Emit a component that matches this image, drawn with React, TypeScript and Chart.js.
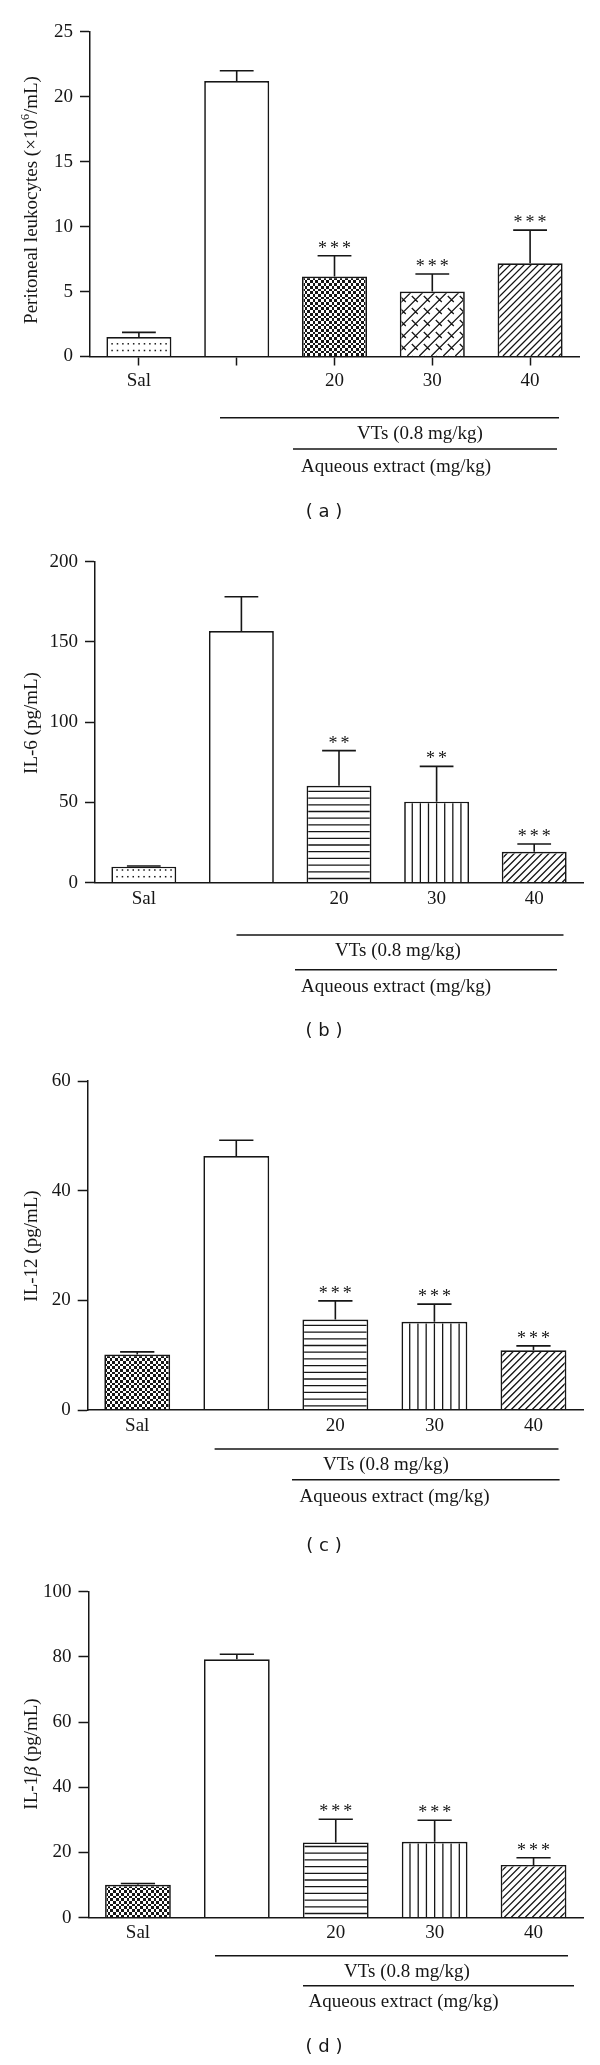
import React, { useEffect, useRef } from "react";
import { Chart, registerables } from "chart.js";

Chart.register(...registerables);

// ---------------- data ----------------
const categories = ["Sal", "", "20", "30", "40"];

const leukocyteMeans = [1.5, 21.2, 6.15, 5.0, 7.17];
const leukocyteSem = [0.36, 0.8, 1.6, 1.35, 2.56];
const leukocyteSig = ["", "", "***", "***", "***"];

const il6Means = [10.0, 156.8, 60.4, 50.5, 19.3];
const il6Sem = [0.4, 21.4, 21.9, 22.0, 4.8];
const il6Sig = ["", "", "**", "**", "***"];

const il12Means = [10.1, 46.3, 16.5, 16.1, 10.9];
const il12Sem = [0.5, 2.9, 3.4, 3.2, 0.8];
const il12Sig = ["", "", "***", "***", "***"];

const il1bMeans = [10.1, 79.3, 23.1, 23.3, 16.2];
const il1bSem = [0.4, 1.5, 7.1, 6.6, 2.2];
const il1bSig = ["", "", "***", "***", "***"];

const groupLabel = "VTs (0.8 mg/kg)";
const doseLabel = "Aqueous extract (mg/kg)";
const panelTags = ["( a )", "( b )", "( c )", "( d )"];

// ---------------- styling / layout ----------------
const INK = "#161616";
const SERIF = "'Liberation Serif', 'Times New Roman', serif";
const SANS = "'DejaVu Sans', sans-serif";

type Seg = { text: string; font: string; dy?: number };

type PanelCfg = {
  top: number;
  height: number;
  area: { left: number; right: number; top: number; bottom: number };
  yMax: number;
  yStep: number;
  means: number[];
  sem: number[];
  sig: string[];
  patterns: string[];
  xTicks: boolean;
  labelPad: number;
  title: Seg[];
  titleCY: number;
  line1: { y: number; x1: number; x2: number };
  vts: { x: number; y: number };
  line2: { y: number; x1: number; x2: number };
  aq: { x: number; y: number };
  tag: { text: string; x: number; y: number };
};

const F19 = `19px ${SERIF}`;

const panels: PanelCfg[] = [
  {
    top: 0,
    height: 520,
    area: { left: 90, right: 579, top: 31.7, bottom: 356.5 },
    yMax: 25,
    yStep: 5,
    means: leukocyteMeans,
    sem: leukocyteSem,
    sig: leukocyteSig,
    patterns: ["dots", "none", "checker", "brick", "diag"],
    xTicks: true,
    labelPad: 4,
    title: [
      { text: "Peritoneal leukocytes (×10", font: F19 },
      { text: "6", font: `12px ${SERIF}`, dy: -6 },
      { text: "/mL)", font: F19 },
    ],
    titleCY: 200,
    line1: { y: 417.7, x1: 220, x2: 559 },
    vts: { x: 420, y: 434 },
    line2: { y: 449, x1: 293, x2: 557 },
    aq: { x: 396, y: 466.7 },
    tag: { text: panelTags[0], x: 324, y: 512.7 },
  },
  {
    top: 520,
    height: 520,
    area: { left: 95, right: 583, top: 41.7, bottom: 362.7 },
    yMax: 200,
    yStep: 50,
    means: il6Means,
    sem: il6Sem,
    sig: il6Sig,
    patterns: ["dots", "none", "hlines", "vlines", "diag"],
    xTicks: false,
    labelPad: 5,
    title: [{ text: "IL-6 (pg/mL)", font: F19 }],
    titleCY: 203,
    line1: { y: 415, x1: 236.5, x2: 563.5 },
    vts: { x: 398, y: 431 },
    line2: { y: 449.7, x1: 295, x2: 557 },
    aq: { x: 396, y: 466.7 },
    tag: { text: panelTags[1], x: 324, y: 511 },
  },
  {
    top: 1040,
    height: 520,
    area: { left: 87.7, right: 583, top: 41, bottom: 370 },
    yMax: 60,
    yStep: 20,
    means: il12Means,
    sem: il12Sem,
    sig: il12Sig,
    patterns: ["checker", "none", "hlines", "vlines", "diag"],
    xTicks: false,
    labelPad: 5,
    title: [{ text: "IL-12 (pg/mL)", font: F19 }],
    titleCY: 206,
    line1: { y: 409, x1: 214.6, x2: 558.5 },
    vts: { x: 386, y: 425 },
    line2: { y: 439.7, x1: 292, x2: 559.6 },
    aq: { x: 394.5, y: 457.3 },
    tag: { text: panelTags[2], x: 324, y: 506 },
  },
  {
    top: 1560,
    height: 505,
    area: { left: 88.5, right: 583, top: 31.7, bottom: 357.7 },
    yMax: 100,
    yStep: 20,
    means: il1bMeans,
    sem: il1bSem,
    sig: il1bSig,
    patterns: ["checker", "none", "hlines", "vlines", "diag"],
    xTicks: false,
    labelPad: 4,
    title: [
      { text: "IL-1", font: F19 },
      { text: "β", font: `italic 19px ${SERIF}` },
      { text: " (pg/mL)", font: F19 },
    ],
    titleCY: 194,
    line1: { y: 395.7, x1: 215, x2: 568 },
    vts: { x: 407, y: 411.7 },
    line2: { y: 425.7, x1: 303, x2: 574 },
    aq: { x: 403.5, y: 441.7 },
    tag: { text: panelTags[3], x: 324, y: 487.7 },
  },
];

// ---------------- drawing helpers ----------------
function drawRich(ctx: CanvasRenderingContext2D, segs: Seg[], cx: number, cy: number, rotate: boolean) {
  ctx.save();
  ctx.translate(cx, cy);
  if (rotate) ctx.rotate(-Math.PI / 2);
  let total = 0;
  segs.forEach((s) => {
    ctx.font = s.font;
    total += ctx.measureText(s.text).width;
  });
  let x = -total / 2;
  ctx.textAlign = "left";
  ctx.textBaseline = "middle";
  ctx.fillStyle = INK;
  segs.forEach((s) => {
    ctx.font = s.font;
    ctx.fillText(s.text, x, s.dy || 0);
    x += ctx.measureText(s.text).width;
  });
  ctx.restore();
}

function drawPattern(ctx: CanvasRenderingContext2D, kind: string, l: number, t: number, r: number, b: number) {
  const w = r - l;
  const h = b - t;
  ctx.fillStyle = INK;
  ctx.strokeStyle = INK;
  ctx.lineWidth = 1.3;
  if (kind === "dots") {
    for (let y = b - 5.5; y > t + 2; y -= 6.7) {
      for (let x = l + 5.7; x < r - 2; x += 5.4) {
        ctx.fillRect(x - 0.75, y - 0.75, 1.5, 1.5);
      }
    }
  } else if (kind === "checker") {
    const c = 2.7;
    const nx = Math.ceil(w / c) + 1;
    const ny = Math.ceil(h / c) + 1;
    for (let i = 0; i < nx; i++) {
      for (let j = 0; j < ny; j++) {
        if ((i + j) % 2 !== 0) continue;
        const x0 = Math.round(l + i * c);
        const x1 = Math.round(l + (i + 1) * c);
        const y1 = Math.round(b - j * c);
        const y0 = Math.round(b - (j + 1) * c);
        ctx.fillRect(x0, y0, x1 - x0, y1 - y0);
      }
    }
  } else if (kind === "diag") {
    const s = 7;
    ctx.beginPath();
    for (let c = -h - s; c < w + s; c += s) {
      ctx.moveTo(l + c, b);
      ctx.lineTo(l + c + h + 2, b - h - 2);
    }
    ctx.stroke();
  } else if (kind === "brick") {
    const s = 12;
    ctx.beginPath();
    for (let c = -h - s; c < w + s; c += s) {
      ctx.moveTo(l + c, b);
      ctx.lineTo(l + c + h + 2, b - h - 2);
    }
    for (let i = -2; i < w / s + 2; i++) {
      for (let j = -Math.ceil(h / s) - 2; j < 2; j++) {
        const px = l + i * s;
        const py = b + j * s;
        ctx.moveTo(px, py);
        ctx.lineTo(px + s / 2, py + s / 2);
      }
    }
    ctx.stroke();
  } else if (kind === "hlines") {
    ctx.beginPath();
    for (let y = b - 3.7; y > t + 1; y -= 6.7) {
      ctx.moveTo(l, y);
      ctx.lineTo(r, y);
    }
    ctx.stroke();
  } else if (kind === "vlines") {
    ctx.beginPath();
    for (let k = 1; k < 8; k++) {
      const x = l + (k * w) / 8;
      ctx.moveTo(x, t);
      ctx.lineTo(x, b);
    }
    ctx.stroke();
  }
}

function makeOverlay(cfg: PanelCfg) {
  return {
    id: "overlay",
    afterDatasetsDraw(chart: any) {
      const ctx: CanvasRenderingContext2D = chart.ctx;
      const yScale = chart.scales.y;
      const meta = chart.getDatasetMeta(0);
      const bw = 1.7;
      meta.data.forEach((bar: any, i: number) => {
        const p = bar.getProps(["x", "y", "base", "width"], true);
        const l = p.x - p.width / 2;
        const r = p.x + p.width / 2;
        const kind = cfg.patterns[i];
        if (kind !== "none") {
          ctx.save();
          ctx.beginPath();
          ctx.rect(l + bw, p.y + bw, p.width - 2 * bw, p.base - p.y - bw);
          ctx.clip();
          drawPattern(ctx, kind, l, p.y, r, p.base);
          ctx.restore();
        }
        // error bar (upper SEM)
        const capY = yScale.getPixelForValue(cfg.means[i] + cfg.sem[i]);
        const cw = p.width * 0.52;
        ctx.save();
        ctx.strokeStyle = INK;
        ctx.lineWidth = 1.6;
        ctx.beginPath();
        ctx.moveTo(p.x, p.y);
        ctx.lineTo(p.x, capY);
        ctx.moveTo(p.x - cw / 2, capY);
        ctx.lineTo(p.x + cw / 2, capY);
        ctx.stroke();
        // significance stars
        const sig = cfg.sig[i];
        if (sig) {
          ctx.font = `18px ${SERIF}`;
          ctx.fillStyle = INK;
          ctx.textAlign = "center";
          ctx.textBaseline = "alphabetic";
          const m = ctx.measureText("*");
          const A = m.actualBoundingBoxAscent;
          const D = m.actualBoundingBoxDescent;
          const base = capY - 11.5 + (A - D) / 2;
          const n = sig.length;
          const pitch = 12;
          for (let k = 0; k < n; k++) {
            ctx.fillText(sig[k], p.x + (k - (n - 1) / 2) * pitch, base);
          }
        }
        ctx.restore();
      });
    },
    afterDraw(chart: any) {
      const ctx: CanvasRenderingContext2D = chart.ctx;
      // y-axis title
      drawRich(ctx, cfg.title, 32, cfg.titleCY, true);
      // group brackets
      ctx.save();
      ctx.strokeStyle = INK;
      ctx.lineWidth = 1.5;
      ctx.beginPath();
      ctx.moveTo(cfg.line1.x1, cfg.line1.y);
      ctx.lineTo(cfg.line1.x2, cfg.line1.y);
      ctx.moveTo(cfg.line2.x1, cfg.line2.y);
      ctx.lineTo(cfg.line2.x2, cfg.line2.y);
      ctx.stroke();
      ctx.fillStyle = INK;
      ctx.textAlign = "center";
      ctx.textBaseline = "middle";
      ctx.font = F19;
      ctx.fillText(groupLabel, cfg.vts.x, cfg.vts.y);
      ctx.fillText(doseLabel, cfg.aq.x, cfg.aq.y);
      ctx.font = `18px ${SANS}`;
      ctx.fillText(cfg.tag.text, cfg.tag.x, cfg.tag.y);
      ctx.restore();
    },
  };
}

function Panel({ cfg }: { cfg: PanelCfg }) {
  const ref = useRef<HTMLCanvasElement>(null);
  useEffect(() => {
    const canvas = ref.current!;
    const a = cfg.area;
    const chart = new Chart(canvas, {
      type: "bar",
      data: {
        labels: categories,
        datasets: [
          {
            data: cfg.means,
            backgroundColor: "#ffffff",
            borderColor: INK,
            borderWidth: 1.7,
            borderSkipped: "start",
            barPercentage: 0.665,
            categoryPercentage: 1,
          },
        ],
      },
      options: {
        responsive: false,
        animation: false,
        devicePixelRatio: 1,
        layout: { padding: { left: 0, top: a.top, right: 600 - a.right, bottom: 0 } },
        plugins: { legend: { display: false }, tooltip: { enabled: false } },
        scales: {
          x: {
            type: "category",
            offset: true,
            border: { display: true, color: INK, width: 1.5, z: 1 },
            grid: {
              display: true,
              offset: false,
              drawOnChartArea: false,
              drawTicks: cfg.xTicks,
              tickLength: 9,
              tickColor: INK,
              tickWidth: 1.5,
            },
            ticks: {
              color: INK,
              font: { family: SERIF, size: 19 },
              padding: cfg.labelPad,
              maxRotation: 0,
              autoSkip: false,
            },
            afterFit: (s: any) => {
              s.height = cfg.height - a.bottom;
            },
          },
          y: {
            min: 0,
            max: cfg.yMax,
            border: { display: true, color: INK, width: 1.5 },
            grid: {
              display: true,
              drawOnChartArea: false,
              drawTicks: true,
              tickLength: 10,
              tickColor: INK,
              tickWidth: 1.5,
            },
            ticks: {
              stepSize: cfg.yStep,
              color: INK,
              font: { family: SERIF, size: 19 },
              padding: 7,
            },
            afterFit: (s: any) => {
              s.width = a.left;
            },
          },
        },
      },
      plugins: [makeOverlay(cfg)],
    } as any);
    return () => chart.destroy();
  }, [cfg]);
  return (
    <canvas
      ref={ref}
      width={600}
      height={cfg.height}
      style={{ position: "absolute", left: 0, top: cfg.top, width: 600, height: cfg.height }}
    />
  );
}

export default function App() {
  return (
    <div style={{ position: "absolute", left: 0, top: 0, width: 600, height: 2065, background: "#ffffff" }}>
      {panels.map((p, i) => (
        <Panel key={i} cfg={p} />
      ))}
    </div>
  );
}
